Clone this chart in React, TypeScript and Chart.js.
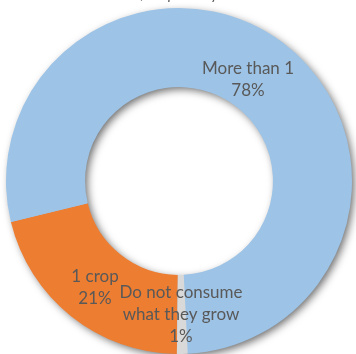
import React, { useEffect, useRef } from "react";
import { Chart, registerables } from "chart.js";

Chart.register(...registerables);

const categories = ["1 crop", "More than 1", "Do not consume what they grow"];
const values = [21, 78, 1];
const labelLines = [["1 crop", "21%"], ["More than 1", "78%"], ["Do not consume", "what they grow", "1%"]];
const titleText = "Number of crop/s they consume";

const colors = ["#ED7D31", "#9DC3E6", "#D9D9D9"];

export default function App() {
  const ref = useRef<HTMLCanvasElement | null>(null);

  useEffect(() => {
    document.body.style.margin = "0";
    const canvas = ref.current!;
    const ringShadow = {
      id: "ringShadow",
      beforeDatasetsDraw(chart: any) {
        const meta = chart.getDatasetMeta(0);
        const arc = meta.data[0];
        if (!arc) return;
        const { x, y, outerRadius, innerRadius } = arc as any;
        const ctx = chart.ctx;
        ctx.save();
        ctx.shadowColor = "rgba(0,0,0,0.6)";
        ctx.shadowBlur = 8;
        ctx.shadowOffsetX = 3;
        ctx.shadowOffsetY = 3;
        ctx.beginPath();
        ctx.arc(x, y, outerRadius - 1, 0, Math.PI * 2);
        ctx.arc(x, y, innerRadius + 1, 0, Math.PI * 2, true);
        ctx.closePath();
        ctx.fillStyle = "#9DC3E6";
        ctx.fill();
        ctx.restore();
      },
    };
    const labelsPlugin = {
      id: "sliceLabels",
      afterDatasetsDraw(chart: any) {
        const ctx = chart.ctx;
        const meta = chart.getDatasetMeta(0);
        ctx.save();
        ctx.fillStyle = "#595959";
        ctx.font = "17px Lato";
        ctx.textAlign = "center";
        ctx.textBaseline = "middle";
        meta.data.forEach((el: any, i: number) => {
          let cx = el.x;
          let cy = el.y;
          const lines = labelLines[i];
          const lh = 22;
          if (i === 1) { cx = el.x + 69; cy = el.y - 101; }
          if (i === 0) { cx = el.x - 84; cy = el.y + 107; }
          if (i === 2) { cx = el.x + 2; cy = el.y + 134; }
          lines.forEach((t: string, k: number) => {
            ctx.fillText(t, cx, cy + (k - (lines.length - 1) / 2) * lh);
          });
        });
        ctx.font = "italic 15px Lato";
        ctx.textBaseline = "alphabetic";
        ctx.fillText(titleText, 178, -1);
        ctx.restore();
      },
    };
    const chart = new Chart(canvas, {
      type: "doughnut",
      data: {
        labels: categories,
        datasets: [
          {
            data: values,
            backgroundColor: colors,
            borderWidth: 0,
          },
        ],
      },
      options: {
        responsive: false,
        animation: false,
        rotation: 180.7,
        cutout: "54.3%",
        layout: { padding: { left: 6, right: 4, top: 8, bottom: 0 } },
        plugins: {
          legend: { display: false },
          tooltip: { enabled: false },
          title: { display: false },
        },
      },
      plugins: [ringShadow, labelsPlugin],
    });
    return () => chart.destroy();
  }, []);

  return (
    <div style={{ width: 356, height: 354, position: "relative", background: "#fff" }}>
      <canvas ref={ref} width={356} height={354} style={{ display: "block" }} />
    </div>
  );
}
